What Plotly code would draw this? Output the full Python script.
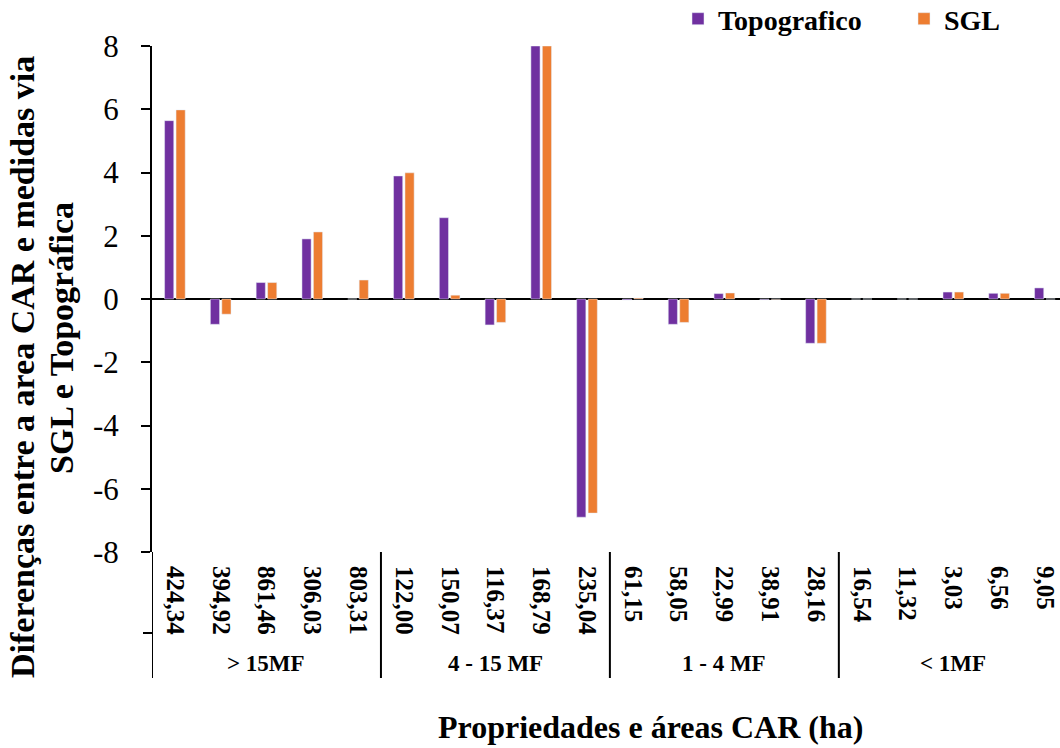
import plotly.graph_objects as go

categories = ["424,34", "394,92", "861,46", "306,03", "803,31",
              "122,00", "150,07", "116,37", "168,79", "235,04",
              "61,15", "58,05", "22,99", "38,91", "28,16",
              "16,54", "11,32", "3,03", "6,56", "9,05"]
groups = ["> 15MF", "4 - 15 MF", "1 - 4 MF", "< 1MF"]
topografico = [5.64, -0.80, 0.52, 1.90, 0.0,
               3.89, 2.57, -0.82, 8.0, -6.90,
               -0.03, -0.80, 0.17, -0.02, -1.40,
               0.0, 0.0, 0.22, 0.18, 0.35]
sgl = [5.98, -0.48, 0.52, 2.12, 0.60,
       3.99, 0.12, -0.74, 8.0, -6.77,
       0.03, -0.74, 0.19, -0.01, -1.40,
       0.0, 0.0, 0.22, 0.18, 0.0]
y_ticks = [-8, -6, -4, -2, 0, 2, 4, 6, 8]

FONT = "Liberation Serif, Times New Roman, serif"
xs = list(range(len(categories)))

fig = go.Figure()
fig.add_trace(go.Bar(x=xs, y=topografico, name="Topografico", marker_color="#7030A0"))
fig.add_trace(go.Bar(x=xs, y=sgl, name="SGL", marker_color="#ED7D31"))

L, T, R, B = 152, 46, 0, 196
W, H = 1060, 748
pw = W - L - R
ph = H - T - B

def py(p):
    return (H - B - p) / ph

def px(p):
    return (p - L) / pw

# group separators and labels
n_per = 5
for gi, g in enumerate(groups):
    x0 = gi * n_per - 0.5
    fig.add_shape(type="line", xref="x", yref="paper", x0=x0, x1=x0,
                  y0=py(552), y1=py(678), line=dict(color="black", width=2))
    fig.add_annotation(xref="x", yref="paper", x=gi * n_per + (n_per - 1) / 2, y=py(663),
                       text="<b>" + g + "</b>", showarrow=False,
                       xanchor="center", yanchor="middle",
                       font=dict(family=FONT, size=23, color="black"))
# small tick between the two category levels
fig.add_shape(type="line", xref="paper", yref="paper", x0=px(143), x1=px(153),
              y0=py(633), y1=py(633), line=dict(color="black", width=2))

fig.add_annotation(xref="paper", yref="paper", x=px(22), y=py(367),
                   text="<b>Diferenças entre a area CAR e medidas via</b>",
                   textangle=-90, showarrow=False, xanchor="center", yanchor="middle",
                   font=dict(family=FONT, size=34, color="black"))
fig.add_annotation(xref="paper", yref="paper", x=px(61), y=py(338),
                   text="<b>SGL e Topográfica</b>",
                   textangle=-90, showarrow=False, xanchor="center", yanchor="middle",
                   font=dict(family=FONT, size=34, color="black"))
fig.add_annotation(xref="paper", yref="paper", x=px(650), y=py(727),
                   text="<b>Propriedades e áreas CAR (ha)</b>", showarrow=False,
                   xanchor="center", yanchor="middle",
                   font=dict(family=FONT, size=32, color="black"))

fig.update_layout(
    width=W, height=H,
    margin=dict(l=L, r=R, t=T, b=B, autoexpand=False),
    paper_bgcolor="white", plot_bgcolor="white",
    barmode="group", bargap=0.5, bargroupgap=0.2,
    showlegend=True,
    legend=dict(orientation="h", x=px(678), y=py(-6), xanchor="left", yanchor="top",
                font=dict(family=FONT, size=28, color="black", weight="bold"),
                entrywidth=181, entrywidthmode="pixels", bgcolor="rgba(0,0,0,0)"),
    font=dict(family=FONT, color="black"),
)
fig.update_xaxes(
    range=[-0.5, 19.33], tickmode="array", tickvals=xs, ticktext=categories,
    tickangle=90, tickfont=dict(family=FONT, size=25, color="black", weight="bold"),
    showline=False, showgrid=False, zeroline=False, ticks="outside", ticklen=8, tickcolor="white",
)
fig.update_yaxes(
    range=[-8, 8], tickmode="array", tickvals=y_ticks, ticktext=[str(v) for v in y_ticks],
    tickfont=dict(family=FONT, size=31, color="black"),
    showline=True, linecolor="black", linewidth=2, ticks="outside", ticklen=9,
    tickwidth=2, tickcolor="black", ticklabelstandoff=16,
    showgrid=False, zeroline=True, zerolinecolor="black", zerolinewidth=2,
)

fig.write_html("out.html", config={"displayModeBar": False},
               post_script="document.body.style.margin='0px';")
